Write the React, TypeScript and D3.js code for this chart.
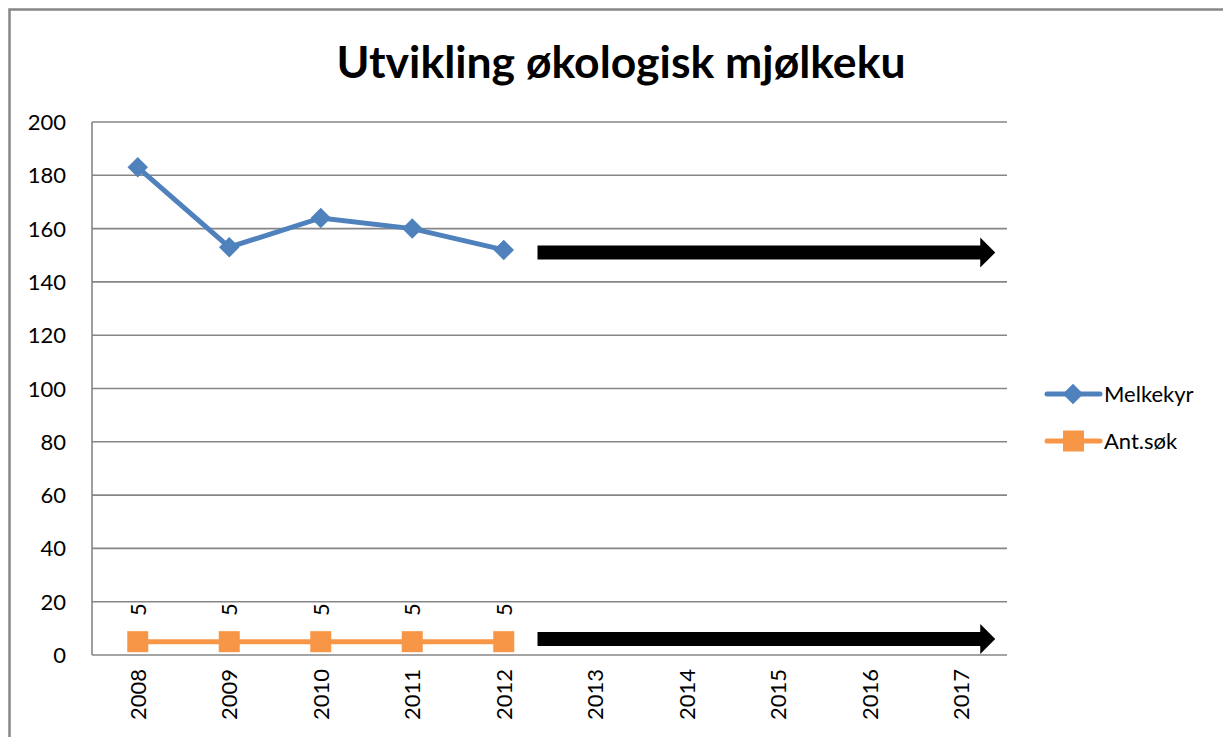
import React, { useEffect, useRef } from 'react';
import * as d3 from 'd3';

const years = ['2008', '2009', '2010', '2011', '2012', '2013', '2014', '2015', '2016', '2017'];
const melkekyr = [183, 153, 164, 160, 152];
const antSok = [5, 5, 5, 5, 5];
const yTicks = [0, 20, 40, 60, 80, 100, 120, 140, 160, 180, 200];
// arrows drawn over the empty future years: [from year, to year, level]
const arrowRows = [
  ['2012', '2017', 151],
  ['2012', '2017', 6],
];

const W = 1223;
const H = 737;
const font = 'Lato, "Open Sans", sans-serif';

const App = () => {
  const ref = useRef<SVGSVGElement>(null);

  useEffect(() => {
    const svg = d3.select(ref.current);
    svg.selectAll('*').remove();

    const left = 92, right = 1007, top = 122, bottom = 655;

    // outer chart border
    svg.append('rect')
      .attr('x', 9.5).attr('y', 9.5)
      .attr('width', 1230).attr('height', 740)
      .attr('fill', 'white')
      .attr('stroke', '#878787')
      .attr('stroke-width', 2.5);

    svg.append('text')
      .attr('x', 621).attr('y', 78)
      .attr('text-anchor', 'middle')
      .attr('font-family', font)
      .attr('font-weight', 'bold')
      .attr('font-size', 44.5)
      .text('Utvikling økologisk mjølkeku');

    const x = d3.scaleBand().domain(years).range([left, right]);
    const y = d3.scaleLinear().domain([0, 200]).range([bottom, top]);
    const cx = (i: number) => (x(years[i]) as number) + x.bandwidth() / 2;

    // gridlines
    svg.append('g').selectAll('line')
      .data(yTicks)
      .enter()
      .append('line')
      .attr('x1', left).attr('x2', right)
      .attr('y1', d => y(d)).attr('y2', d => y(d))
      .attr('stroke', '#868686')
      .attr('stroke-width', 1.6);

    svg.append('line')
      .attr('x1', left).attr('x2', left)
      .attr('y1', top).attr('y2', bottom)
      .attr('stroke', '#868686')
      .attr('stroke-width', 1.6);

    // y labels
    svg.append('g').selectAll('text')
      .data(yTicks)
      .enter()
      .append('text')
      .attr('x', 66)
      .attr('y', d => y(d) + 8)
      .attr('text-anchor', 'end')
      .attr('font-family', font)
      .attr('font-size', 22)
      .text(d => d);

    // x labels, rotated
    svg.append('g').selectAll('text')
      .data(years)
      .enter()
      .append('text')
      .attr('transform', (d, i) => `translate(${cx(i) + 8},${669}) rotate(-90)`)
      .attr('text-anchor', 'end')
      .attr('font-family', font)
      .attr('font-size', 22)
      .text(d => d);

    // arrows
    arrowRows.forEach(([a, b, v]) => {
      const x0 = (x(a as string) as number) + x.bandwidth() - 12;
      const x1 = (x(b as string) as number) + x.bandwidth() / 2 + 34;
      const yc = y(v as number);
      const head = 15;
      svg.append('path')
        .attr('d', `M${x0},${yc - 7} L${x1 - head},${yc - 7} L${x1 - head},${yc - 15} L${x1},${yc} L${x1 - head},${yc + 15} L${x1 - head},${yc + 7} L${x0},${yc + 7} Z`)
        .attr('fill', 'black');
    });

    const line = d3.line<number>().x((d, i) => cx(i)).y(d => y(d));

    svg.append('path')
      .datum(melkekyr)
      .attr('d', line)
      .attr('fill', 'none')
      .attr('stroke', '#4f81bd')
      .attr('stroke-width', 5);

    svg.append('g').selectAll('path')
      .data(melkekyr)
      .enter()
      .append('path')
      .attr('d', d3.symbol().type(d3.symbolSquare).size(210))
      .attr('transform', (d, i) => `translate(${cx(i)},${y(d)}) rotate(45)`)
      .attr('fill', '#4f81bd');

    svg.append('path')
      .datum(antSok)
      .attr('d', line)
      .attr('fill', 'none')
      .attr('stroke', '#f79646')
      .attr('stroke-width', 5);

    svg.append('g').selectAll('rect')
      .data(antSok)
      .enter()
      .append('rect')
      .attr('x', (d, i) => cx(i) - 10.5)
      .attr('y', d => y(d) - 10.5)
      .attr('width', 21).attr('height', 21)
      .attr('fill', '#f79646');

    // data labels
    svg.append('g').selectAll('text')
      .data(antSok)
      .enter()
      .append('text')
      .attr('transform', (d, i) => `translate(${cx(i) + 8},${y(d) - 32}) rotate(-90)`)
      .attr('text-anchor', 'middle')
      .attr('font-family', font)
      .attr('font-size', 22)
      .text(d => d);

    // legend
    const legend = [
      { name: 'Melkekyr', color: '#4f81bd', shape: 'diamond' },
      { name: 'Ant.søk', color: '#f79646', shape: 'square' },
    ];
    legend.forEach((l, i) => {
      const ly = 394 + i * 47;
      const g = svg.append('g');
      g.append('line')
        .attr('x1', 1047).attr('x2', 1100)
        .attr('y1', ly).attr('y2', ly)
        .attr('stroke', l.color)
        .attr('stroke-width', 5)
        .attr('stroke-linecap', 'round');
      if (l.shape === 'diamond') {
        g.append('path')
          .attr('d', d3.symbol().type(d3.symbolSquare).size(210))
          .attr('transform', `translate(1073,${ly}) rotate(45)`)
          .attr('fill', l.color);
      } else {
        g.append('rect')
          .attr('x', 1063).attr('y', ly - 10.5)
          .attr('width', 21).attr('height', 21)
          .attr('fill', l.color);
      }
      g.append('text')
        .attr('x', 1104).attr('y', ly + 8)
        .attr('font-family', font)
        .attr('font-size', 22)
        .text(l.name);
    });
  }, []);

  return (
    <svg ref={ref} width={W} height={H}
      style={{ position: 'absolute', left: 0, top: 0, background: 'white' }} />
  );
};

export default App;
